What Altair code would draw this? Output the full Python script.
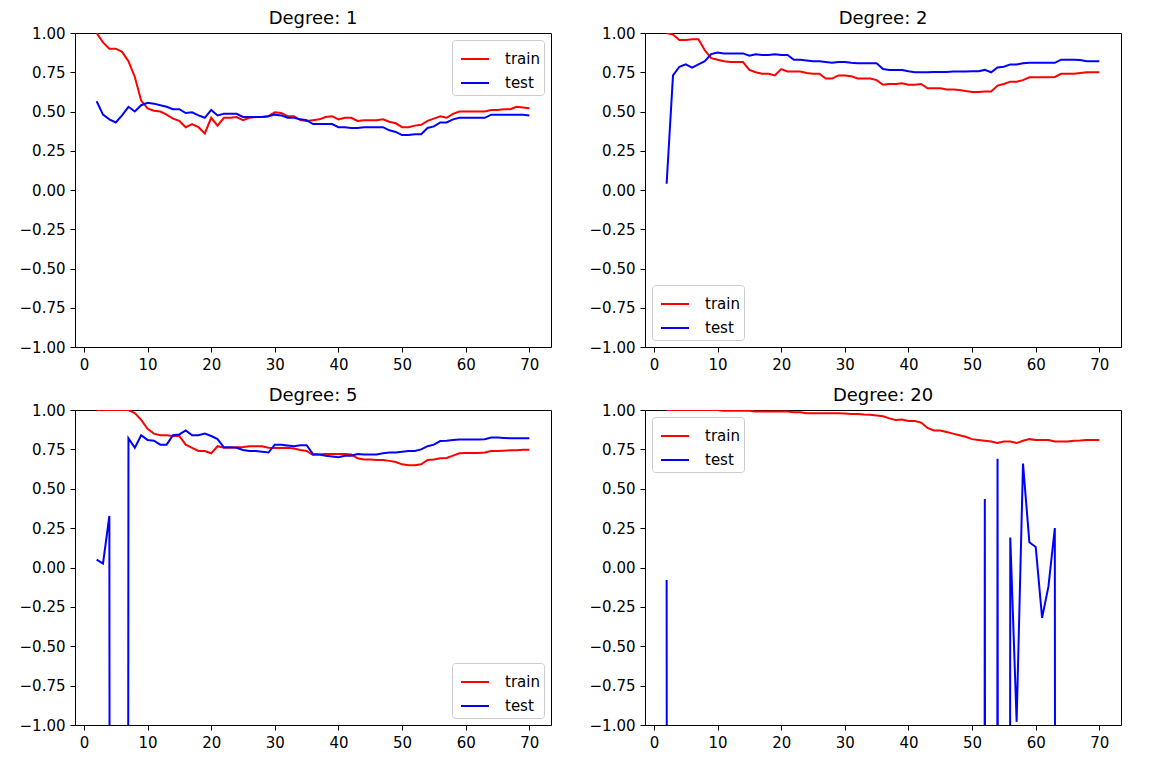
import altair as alt
import pandas as pd

x_vals = list(range(2, 71))
OFF = -50.0  # scores far below the visible range (drawn as clipped vertical drops)

d1_train = [1.00, 0.94, 0.90, 0.90, 0.88, 0.82, 0.72, 0.57, 0.52, 0.505,
            0.50, 0.48, 0.455, 0.44, 0.40, 0.42, 0.40, 0.36, 0.46, 0.41,
            0.46, 0.46, 0.465, 0.445, 0.46, 0.465, 0.465, 0.47, 0.495, 0.49,
            0.47, 0.47, 0.445, 0.44, 0.445, 0.45, 0.465, 0.47, 0.45, 0.46,
            0.46, 0.44, 0.445, 0.445, 0.445, 0.45, 0.435, 0.425, 0.40, 0.40,
            0.41, 0.415, 0.44, 0.455, 0.47, 0.46, 0.485, 0.50, 0.50, 0.50,
            0.50, 0.50, 0.51, 0.51, 0.515, 0.515, 0.53, 0.525, 0.52]
d1_test = [0.565, 0.48, 0.45, 0.43, 0.475, 0.53, 0.50, 0.54, 0.555, 0.55,
           0.54, 0.53, 0.515, 0.515, 0.49, 0.495, 0.475, 0.46, 0.51, 0.475,
           0.485, 0.485, 0.485, 0.465, 0.465, 0.465, 0.465, 0.47, 0.48, 0.475,
           0.46, 0.46, 0.45, 0.445, 0.42, 0.42, 0.42, 0.42, 0.40, 0.40,
           0.395, 0.395, 0.40, 0.40, 0.40, 0.40, 0.38, 0.37, 0.35, 0.35,
           0.355, 0.355, 0.395, 0.405, 0.43, 0.43, 0.45, 0.46, 0.46, 0.46,
           0.46, 0.46, 0.48, 0.48, 0.48, 0.48, 0.48, 0.48, 0.475]

d2_train = [1.00, 0.99, 0.955, 0.955, 0.96, 0.96, 0.89, 0.84, 0.83, 0.82,
            0.815, 0.815, 0.815, 0.765, 0.75, 0.74, 0.74, 0.73, 0.77, 0.755,
            0.755, 0.755, 0.745, 0.74, 0.74, 0.71, 0.71, 0.73, 0.73, 0.725,
            0.71, 0.71, 0.71, 0.70, 0.67, 0.675, 0.675, 0.68, 0.67, 0.67,
            0.675, 0.648, 0.648, 0.648, 0.64, 0.64, 0.637, 0.63, 0.624, 0.624,
            0.627, 0.627, 0.665, 0.675, 0.69, 0.69, 0.70, 0.718, 0.718, 0.718,
            0.718, 0.72, 0.74, 0.74, 0.74, 0.745, 0.75, 0.75, 0.75]
d2_test = [0.04, 0.73, 0.785, 0.80, 0.78, 0.80, 0.82, 0.866, 0.875, 0.87,
           0.87, 0.87, 0.87, 0.855, 0.865, 0.86, 0.86, 0.865, 0.86, 0.86,
           0.83, 0.83, 0.825, 0.82, 0.82, 0.815, 0.81, 0.815, 0.815, 0.81,
           0.807, 0.807, 0.807, 0.807, 0.77, 0.765, 0.765, 0.765, 0.757, 0.75,
           0.75, 0.75, 0.752, 0.752, 0.752, 0.755, 0.755, 0.755, 0.757, 0.757,
           0.765, 0.75, 0.78, 0.785, 0.80, 0.80, 0.807, 0.81, 0.81, 0.81,
           0.81, 0.81, 0.83, 0.83, 0.83, 0.828, 0.82, 0.82, 0.82]

d5_train = [1.00, 1.00, 1.00, 1.00, 1.00, 1.00, 0.98, 0.937, 0.88, 0.85,
            0.84, 0.84, 0.835, 0.835, 0.78, 0.76, 0.74, 0.74, 0.725, 0.77,
            0.76, 0.76, 0.763, 0.765, 0.77, 0.77, 0.77, 0.76, 0.758, 0.758,
            0.76, 0.755, 0.746, 0.74, 0.714, 0.717, 0.72, 0.72, 0.72, 0.72,
            0.717, 0.693, 0.686, 0.686, 0.683, 0.683, 0.677, 0.67, 0.655, 0.65,
            0.65, 0.655, 0.683, 0.686, 0.693, 0.695, 0.71, 0.725, 0.727, 0.727,
            0.727, 0.73, 0.74, 0.74, 0.742, 0.744, 0.745, 0.747, 0.747]
d5_test = [0.05, 0.025, 0.327, OFF, OFF, 0.82, 0.76, 0.84, 0.81, 0.805,
           0.78, 0.78, 0.84, 0.845, 0.87, 0.84, 0.84, 0.85, 0.835, 0.815,
           0.763, 0.763, 0.76, 0.746, 0.74, 0.74, 0.735, 0.73, 0.78, 0.78,
           0.775, 0.77, 0.776, 0.776, 0.72, 0.717, 0.71, 0.705, 0.70, 0.71,
           0.71, 0.72, 0.718, 0.718, 0.718, 0.725, 0.73, 0.73, 0.735, 0.74,
           0.74, 0.75, 0.77, 0.78, 0.803, 0.805, 0.81, 0.812, 0.812, 0.812,
           0.812, 0.815, 0.825, 0.825, 0.823, 0.82, 0.82, 0.82, 0.82]

d20_train = [1.00, 1.00, 1.00, 1.00, 1.00, 1.00, 1.00, 1.00, 1.00, 0.995,
             0.995, 0.995, 0.995, 0.995, 0.99, 0.99, 0.99, 0.99, 0.99, 0.99,
             0.985, 0.985, 0.98, 0.98, 0.98, 0.98, 0.98, 0.98, 0.978, 0.975,
             0.975, 0.972, 0.97, 0.965, 0.96, 0.947, 0.937, 0.94, 0.93, 0.93,
             0.92, 0.886, 0.87, 0.87, 0.86, 0.85, 0.84, 0.83, 0.815, 0.81,
             0.805, 0.80, 0.79, 0.80, 0.80, 0.79, 0.805, 0.815, 0.81, 0.81,
             0.81, 0.80, 0.80, 0.80, 0.805, 0.806, 0.81, 0.81, 0.81]
d20_test = ([-0.08] + [OFF] * 49 +
            [0.435, OFF, 0.69, OFF, 0.19, -0.98, 0.66, 0.16, 0.13, -0.32, -0.12, 0.25] +
            [OFF] * 7)

series_names = ["train", "test"]
series_colors = ["#ff0000", "#0000ff"]
x_ticks = [0, 10, 20, 30, 40, 50, 60, 70]
y_ticks = [-1.0, -0.75, -0.5, -0.25, 0.0, 0.25, 0.5, 0.75, 1.0]

FONT = "DejaVu Sans"
MINUS = "replace(datum.label, '-', '\u2212')"


def panel(deg, train, test, legend_orient, h):
    df = pd.DataFrame({
        "x": x_vals + x_vals,
        "score": train + test,
        "series": ["train"] * len(x_vals) + ["test"] * len(x_vals),
    })
    return alt.Chart(
        df,
        title=alt.TitleParams(f"Degree: {deg}", anchor="middle"),
    ).mark_line(clip=True, strokeWidth=2).encode(
        x=alt.X("x:Q",
                scale=alt.Scale(domain=[-1.4, 73.4], nice=False, zero=False),
                axis=alt.Axis(values=x_ticks, title=None, format="d")),
        y=alt.Y("score:Q",
                scale=alt.Scale(domain=[-1, 1], nice=False, zero=False),
                axis=alt.Axis(values=y_ticks, title=None, format=".2f",
                              labelExpr=MINUS)),
        color=alt.Color("series:N",
                        sort=series_names,
                        scale=alt.Scale(domain=series_names, range=series_colors),
                        legend=alt.Legend(orient=legend_orient, title=None)),
    ).properties(width=476, height=h)


p1 = panel(1, d1_train, d1_test, "top-right", 314)
p2 = panel(2, d2_train, d2_test, "bottom-left", 314)
p5 = panel(5, d5_train, d5_test, "bottom-right", 315)
p20 = panel(20, d20_train, d20_test, "top-left", 315)

top = alt.hconcat(p1, p2, spacing=36).resolve_scale(color="independent")
bottom = alt.hconcat(p5, p20, spacing=36).resolve_scale(color="independent")

chart = alt.vconcat(top, bottom, spacing=13).resolve_scale(
    color="independent"
).properties(
    padding={"left": 10, "top": 1, "right": 5, "bottom": 5}
).configure_view(
    stroke="black", strokeWidth=1
).configure_axis(
    grid=False,
    domainColor="black", domainWidth=1,
    tickColor="black", tickWidth=1, tickSize=5,
    labelColor="black", labelFont=FONT, labelFontSize=15, labelPadding=5,
).configure_title(
    font=FONT, fontSize=18, fontWeight="normal", color="black", offset=-2,
).configure_legend(
    symbolType="stroke", symbolSize=784, symbolStrokeWidth=2,
    labelFont=FONT, labelFontSize=15, labelColor="black",
    padding=4, rowPadding=1, labelOffset=15, symbolOffset=4,
    strokeColor="#cccccc", fillColor="white", cornerRadius=3, offset=7,
)

chart.save("out.html", embed_options={"renderer": "svg", "actions": False})
